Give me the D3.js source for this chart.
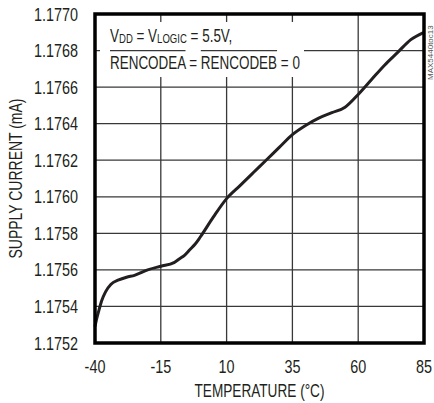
<!DOCTYPE html>
<html>
<head>
<meta charset="utf-8">
<script src="https://cdn.jsdelivr.net/npm/d3@7"></script>
<style>
  body { margin: 0; background: #fff; }
  svg text { font-family: 'Liberation Sans', Arial, sans-serif; fill: #231f20; }
</style>
</head>
<body>
<div id="chart"></div>
<script>
// temperature (°C) and supply current (mA)
const temps = [-40, -39.4, -38.5, -37.5, -36, -34, -31, -28, -25, -20, -15, -10, -8, -6, -4, -2, 0, 5, 10, 15, 20, 25, 30, 35, 40, 45, 50, 55, 60, 65, 70, 75, 80, 85]
const current = [1.17529, 1.17533, 1.17538, 1.17543, 1.17548, 1.17552, 1.175545, 1.17556, 1.17557, 1.1756, 1.17562, 1.17564, 1.17566, 1.17568, 1.17571, 1.17574, 1.17578, 1.17589, 1.17599, 1.17606, 1.17613, 1.1762, 1.17627, 1.17634, 1.17639, 1.17643, 1.17646, 1.17649, 1.17656, 1.17664, 1.17672, 1.17679, 1.17686, 1.1769]
const xTicks = [-40, -15, 10, 35, 60, 85]
const yTicks = [1.1752, 1.1754, 1.1756, 1.1758, 1.176, 1.1762, 1.1764, 1.1766, 1.1768, 1.177]

const width = 434
const height = 403
const margin = { top: 14, right: 10, bottom: 60, left: 95 }
const w = width - margin.left - margin.right
const h = height - margin.top - margin.bottom
const ink = '#231f20'
const gridInk = '#383838'

const svg = d3.select('#chart')
  .append('svg')
  .attr('width', width)
  .attr('height', height)

const g = svg.append('g')
  .attr('transform', `translate(${margin.left}, ${margin.top})`)

const x = d3.scaleLinear().domain([-40, 85]).range([0, w])
const y = d3.scaleLinear().domain([1.1752, 1.177]).range([h, 0])

// condensed looking text: squeeze horizontally
function label(parent, px, py, str, size, sx, anchor) {
  return parent.append('text')
    .attr('transform', `translate(${px}, ${py}) scale(${sx}, 1)`)
    .attr('text-anchor', anchor || 'start')
    .style('font-size', size + 'px')
    .text(str)
}

// grid
g.selectAll('line.gx')
  .data(xTicks)
  .join('line')
  .attr('class', 'gx')
  .attr('x1', d => x(d)).attr('x2', d => x(d))
  .attr('y1', 0).attr('y2', h)
  .style('stroke', gridInk)
  .style('stroke-width', '1.3px')
g.selectAll('line.gy')
  .data(yTicks)
  .join('line')
  .attr('class', 'gy')
  .attr('x1', 0).attr('x2', w)
  .attr('y1', d => y(d)).attr('y2', d => y(d))
  .style('stroke', gridInk)
  .style('stroke-width', '1.3px')

// white patch behind the note
g.append('rect')
  .attr('x', 5)
  .attr('y', 8)
  .attr('width', 204)
  .attr('height', 55)
  .attr('fill', '#fff')

// note
const noteG = g.append('g').attr('transform', 'translate(15, 0)')
const note = noteG.append('text')
  .attr('y', 28)
  .style('font-size', '19px')
note.append('tspan').text('V')
note.append('tspan').text('DD').style('font-size', '13.5px').attr('dy', 1)
note.append('tspan').text(' = V').attr('dy', -1)
note.append('tspan').text('LOGIC').style('font-size', '13.5px').attr('dy', 1)
note.append('tspan').text(' = 5.5V,').attr('dy', -1)

const note2 = noteG.append('text')
  .attr('y', 55.5)
  .style('font-size', '19px')
  .text('RENCODEA = RENCODEB = 0')

const n2 = note2.node()
const full = n2.getComputedTextLength()
const sx = 190 / full
noteG.attr('transform', `translate(15, 0) scale(${sx}, 1)`)

// overlines sit on the 1.1768 row
const lenA = n2.getSubStringLength(0, 8)
const startB = n2.getSubStringLength(0, 11)
const lenB = n2.getSubStringLength(11, 8)
const oy = y(1.1768)
noteG.append('path')
  .attr('d', `M0,${oy}H${lenA}M${startB},${oy}H${startB + lenB}`)
  .style('fill', 'none')
  .style('stroke', gridInk)
  .style('stroke-width', '1.3px')

// curve
const line = d3.line()
  .x((d, i) => x(temps[i]))
  .y(d => y(d))
  .curve(d3.curveMonotoneX)

g.append('path')
  .datum(current)
  .attr('fill', 'none')
  .attr('stroke', ink)
  .attr('stroke-width', 3)
  .attr('stroke-linejoin', 'round')
  .attr('d', line)

// frame
g.append('rect')
  .attr('width', w)
  .attr('height', h)
  .attr('fill', 'none')
  .attr('stroke', '#000')
  .attr('stroke-width', 3.5)

// tick labels
xTicks.forEach(d => label(g, x(d), h + 30, d, 18, 0.8, 'middle'))
yTicks.forEach(d => label(g, -17, y(d) + 6.5, d3.format('.4f')(d), 18, 0.8, 'end'))

// axis titles
g.append('text')
  .attr('x', w / 2 - 65)
  .attr('y', h + 53.5)
  .attr('textLength', 130)
  .attr('lengthAdjust', 'spacingAndGlyphs')
  .style('font-size', '18px')
  .text('TEMPERATURE (°C)')

g.append('text')
  .attr('transform', `translate(-73, ${h / 2 + 80}) rotate(-90)`)
  .attr('textLength', 160)
  .attr('lengthAdjust', 'spacingAndGlyphs')
  .style('font-size', '18px')
  .text('SUPPLY CURRENT (mA)')

svg.append('text')
  .attr('transform', 'translate(432.5, 80) rotate(-90)')
  .style('font-size', '8px')
  .style('fill', '#555')
  .text('MAX5440toc13')
</script>
</body>
</html>
